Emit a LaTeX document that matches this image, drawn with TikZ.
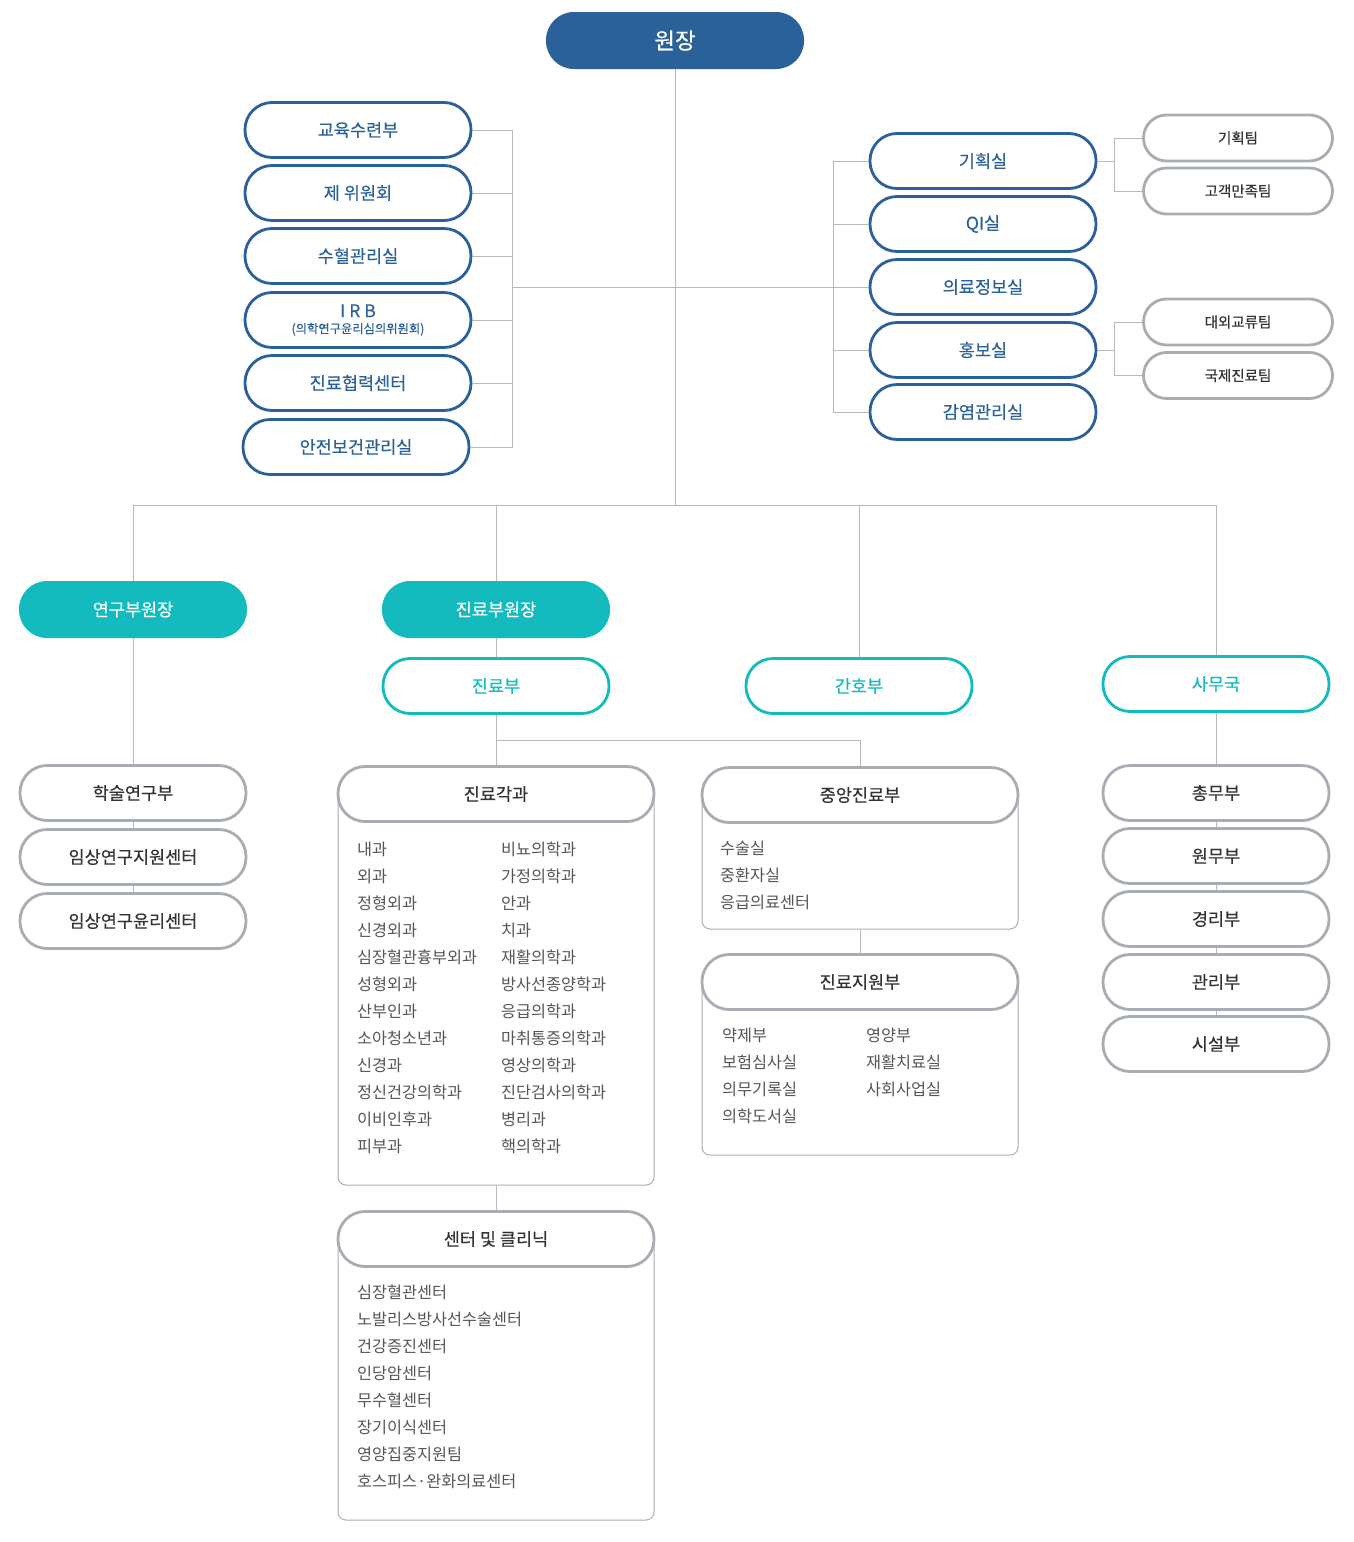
\documentclass[tikz,border=0pt]{standalone}
\usepackage{fontspec}
\setmainfont{Noto Sans CJK KR}
\newfontfamily\medfont{Noto Sans CJK KR}[FakeBold=0.35]
\usepackage{xcolor}
\usetikzlibrary{positioning}
\usetikzlibrary{calc}

\definecolor{hblue}{RGB}{43,97,153}
\definecolor{hteal}{RGB}{20,187,190}
\definecolor{hgrey}{RGB}{168,173,180}
\definecolor{hline}{RGB}{185,185,185}
\definecolor{htext}{RGB}{51,51,51}
\definecolor{hitem}{RGB}{85,85,85}

\begin{document}
\begin{tikzpicture}[x=1pt,y=-1pt,
    basic/.style={rounded corners=27pt,minimum width=226pt,minimum height=55pt,inner sep=0pt,align=center,font=\medfont\fontsize{17.5}{20}\selectfont},
    chief/.style={basic,fill=hblue,text=white,minimum width=258pt,minimum height=57pt,rounded corners=28pt,font=\medfont\fontsize{22.5}{26}\selectfont},
    office/.style={basic,draw=hblue,line width=2.8pt,fill=white,text=hblue},
    team/.style={basic,draw=hgrey,line width=2.8pt,fill=white,text=htext,minimum width=189pt,minimum height=46pt,rounded corners=23pt,font=\medfont\fontsize{14.5}{17}\selectfont},
    vice/.style={basic,fill=hteal,text=white,minimum width=228pt,minimum height=57pt,rounded corners=28pt},
    division/.style={basic,draw=hteal,line width=2.8pt,fill=white,text=hteal},
    dept/.style={basic,draw=hgrey,line width=2.8pt,fill=white,text=htext},
    head/.style={dept,minimum width=316pt},
    listbox/.style={draw=hgrey,line width=1pt,rounded corners=8pt,minimum width=316pt,inner sep=0pt},
    item/.style={anchor=west,inner sep=0pt,text=hitem,font=\fontsize{16.3}{19}\selectfont},
    link/.style={draw=hline,line width=1pt},
]
\useasboundingbox (0,0) rectangle (1353,1542);

% top
\node[chief] (chief) at (675,40.5) {원장};
\coordinate (lbar) at (512,287);
\coordinate (rbar) at (833,287);
\coordinate (hub) at (675,505);

% staff offices, left
\node[office] (edu) at (358,130) {교육수련부};
\node[office] (comm) at (358,193) {제 위원회};
\node[office] (blood) at (358,256) {수혈관리실};
\node[office] (irb) at (358,320) {I R B\\[-4pt]{\fontsize{12.3}{14}\selectfont(의학연구윤리심의위원회)}};
\node[office] (coop) at (358,383) {진료협력센터};
\node[office] (safe) at (356,447) {안전보건관리실};

% staff offices, right
\node[office] (plan) at (983,161) {기획실};
\node[office] (qi) at (983,224) {QI실};
\node[office] (info) at (983,287) {의료정보실};
\node[office] (pr) at (983,350) {홍보실};
\node[office] (infect) at (983,412) {감염관리실};

\node[team] (tplan) at (1238,138) {기획팀};
\node[team] (tcust) at (1238,191) {고객만족팀};
\node[team] (tintl) at (1238,322) {대외교류팀};
\node[team] (tglob) at (1238,375.5) {국제진료팀};

\foreach \n in {edu,comm,blood,irb,coop,safe}
    \path[link] (\n.east) -| (lbar);
\foreach \n in {plan,qi,info,pr,infect}
    \path[link] (\n.west) -| (rbar);
\path[link] (lbar) -- (rbar);
\path[link] (chief.south) -- (hub);
\path[link] (plan.east) -- ++(17,0) coordinate (pbar);
\path[link] (tplan.west) -| (pbar) |- (tcust.west);
\path[link] (pr.east) -- ++(17,0) coordinate (hbar);
\path[link] (tintl.west) -| (hbar) |- (tglob.west);

% second level
\node[vice] (vres) at (133,609.5) {연구부원장};
\node[vice] (vmed) at (496,609.5) {진료부원장};
\node[division] (med) at (496,686) {진료부};
\node[division] (nurse) at (859,686) {간호부};
\node[division] (admin) at (1216,684) {사무국};

\path[link] (hub) -| (vres.north);
\path[link] (hub) -| (vmed.north);
\path[link] (hub) -| (nurse.north);
\path[link] (hub) -| (admin.north);
\path[link] (vmed.south) -- (med.north);

% research
\node[dept] (acad) at (133,793) {학술연구부};
\node[dept] (csup) at (133,857) {임상연구지원센터};
\node[dept] (ceth) at (133,921) {임상연구윤리센터};
\path[link] (vres.south) -- (acad.north);
\path[link] (acad.south) -- (csup.north);
\path[link] (csup.south) -- (ceth.north);

% clinical departments
\node[listbox,minimum height=391pt] (gwabox) at (496,989.5) {};
\node[head] (gwa) at (496,794) {진료각과};
\foreach \t [count=\i from 0] in {내과,외과,정형외과,신경외과,심장혈관흉부외과,성형외과,산부인과,소아청소년과,신경과,정신건강의학과,이비인후과,피부과}
    \node[item] (gl\i) at (357,{849+27*\i}) {\t};
\foreach \t [count=\i from 0] in {비뇨의학과,가정의학과,안과,치과,재활의학과,방사선종양학과,응급의학과,마취통증의학과,영상의학과,진단검사의학과,병리과,핵의학과}
    \node[item] (gr\i) at (501,{849+27*\i}) {\t};

\node[listbox,minimum height=281pt] (clinbox) at (496,1379.5) {};
\node[head] (clin) at (496,1239) {센터 및 클리닉};
\foreach \t [count=\i from 0] in {심장혈관센터,노발리스방사선수술센터,건강증진센터,인당암센터,무수혈센터,장기이식센터,영양집중지원팀,호스피스·완화의료센터}
    \node[item] (cl\i) at (357,{1292+27*\i}) {\t};

\node[listbox,minimum height=134pt] (jcbox) at (860,862) {};
\node[head] (jc) at (860,795) {중앙진료부};
\foreach \t [count=\i from 0] in {수술실,중환자실,응급의료센터}
    \node[item] (jc\i) at (720,{848+27*\i}) {\t};

\node[listbox,minimum height=173pt] (jsbox) at (860,1068.5) {};
\node[head] (js) at (860,982) {진료지원부};
\foreach \t [count=\i from 0] in {약제부,보험심사실,의무기록실,의학도서실}
    \node[item] (jsl\i) at (722,{1035+27*\i}) {\t};
\foreach \t [count=\i from 0] in {영양부,재활치료실,사회사업실}
    \node[item] (jsr\i) at (866,{1035+27*\i}) {\t};

\coordinate (jbr) at (496,740);
\path[link] (med.south) -- (gwa.north);
\path[link] (jbr) -| (jc.north);
\path[link] (gwabox.south) -- (clin.north);
\path[link] (jcbox.south) -- (js.north);

% administration
\node[dept] (gen) at (1216,793) {총무부};
\node[dept] (pat) at (1216,856) {원무부};
\node[dept] (acc) at (1216,919) {경리부};
\node[dept] (mgmt) at (1216,982) {관리부};
\node[dept] (fac) at (1216,1044) {시설부};
\path[link] (admin.south) -- (gen.north);
\path[link] (gen.south) -- (pat.north);
\path[link] (pat.south) -- (acc.north);
\path[link] (acc.south) -- (mgmt.north);
\path[link] (mgmt.south) -- (fac.north);
\end{tikzpicture}
\end{document}
